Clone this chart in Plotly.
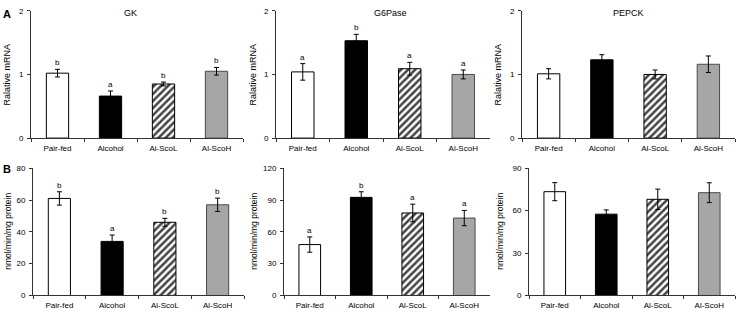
import plotly.graph_objects as go

categories = ["Pair-fed", "Alcohol", "Al-ScoL", "Al-ScoH"]

# Panel A: relative mRNA
gk_mrna = [1.02, 0.66, 0.85, 1.05]
gk_mrna_err = [0.06, 0.08, 0.03, 0.06]
gk_mrna_sig = ["b", "a", "b", "b"]

g6p_mrna = [1.04, 1.53, 1.09, 1.00]
g6p_mrna_err = [0.13, 0.10, 0.10, 0.07]
g6p_mrna_sig = ["a", "b", "a", "a"]

pepck_mrna = [1.01, 1.23, 1.00, 1.16]
pepck_mrna_err = [0.08, 0.08, 0.07, 0.13]
pepck_mrna_sig = ["", "", "", ""]

# Panel B: enzyme activity
gk_act = [61.0, 34.0, 46.0, 57.0]
gk_act_err = [4.2, 4.0, 2.5, 4.2]
gk_act_sig = ["b", "a", "b", "b"]

g6p_act = [48.0, 92.5, 77.8, 73.0]
g6p_act_err = [7.2, 5.3, 8.3, 7.2]
g6p_act_sig = ["a", "b", "a", "a"]

pepck_act = [73.4, 57.5, 68.0, 72.7]
pepck_act_err = [6.4, 3.0, 7.2, 7.0]
pepck_act_sig = ["", "", "", ""]

titles = ["GK", "G6Pase", "PEPCK"]
ytitle_top = "Ralative mRNA"
ytitle_bot = "nmol/min/mg protein"

FONT = "Arial, Liberation Sans, sans-serif"
W, H = 738, 317

def px_x(p):
    return p / W

def px_y(p):
    return 1 - p / H

panels = [
    (gk_mrna, gk_mrna_err, gk_mrna_sig, (31, 243), (138, 7), 2, 1, ytitle_top, 7, "GK", 130),
    (g6p_mrna, g6p_mrna_err, g6p_mrna_sig, (276, 490), (138, 7), 2, 1, ytitle_top, 253, "G6Pase", 390),
    (pepck_mrna, pepck_mrna_err, pepck_mrna_sig, (522, 735), (138, 7), 2, 1, ytitle_top, 498, "PEPCK", 628),
    (gk_act, gk_act_err, gk_act_sig, (33, 244), (300, 169), 80, 20, ytitle_bot, 8, None, None),
    (g6p_act, g6p_act_err, g6p_act_sig, (284, 490), (300, 169), 120, 30, ytitle_bot, 254, None, None),
    (pepck_act, pepck_act_err, pepck_act_sig, (529, 735), (300, 169), 90, 30, ytitle_bot, 500, None, None),
]

fills = ["white", "black", "white", "#a6a6a6"]
lines = ["black", "black", "black", "#4a4a4a"]
patterns = ["", "", "/", ""]

fig = go.Figure()
annotations = []

for i, (vals, errs, sig, xd, yd, ymax, dt, yt, ytx, title, tx) in enumerate(panels):
    n = i + 1
    xa = "x" if n == 1 else f"x{n}"
    ya = "y" if n == 1 else f"y{n}"
    fig.add_trace(go.Bar(
        x=categories, y=vals, xaxis=xa, yaxis=ya, width=0.42,
        marker=dict(color=fills, line=dict(color=lines, width=1),
                    pattern=dict(shape=patterns, fgcolor="black", bgcolor="white",
                                 fgopacity=1, size=5, solidity=0.5)),
        error_y=dict(type="data", array=errs, color="black", thickness=1, width=2.5),
        showlegend=False, hoverinfo="skip",
    ))
    xkey = "xaxis" if n == 1 else f"xaxis{n}"
    ykey = "yaxis" if n == 1 else f"yaxis{n}"
    fig.layout[xkey] = dict(
        domain=[px_x(xd[0]), px_x(xd[1])], anchor=ya, type="category",
        range=[-0.5, 3.5], showline=True, linecolor="#333", linewidth=1,
        ticks="outside", ticklen=3, tickcolor="#333", tickson="boundaries",
        ticklabelstandoff=2,
        tickfont=dict(family=FONT, size=8, color="black"), showgrid=False,
        zeroline=False, fixedrange=True,
    )
    fig.layout[ykey] = dict(
        domain=[px_y(yd[0]), px_y(yd[1])], anchor=xa, range=[0, ymax], dtick=dt,
        showline=True, linecolor="#333", linewidth=1, ticks="outside", ticklen=3,
        tickcolor="#333", ticklabelstandoff=2,
        tickfont=dict(family=FONT, size=8, color="black"),
        showgrid=False, zeroline=False, fixedrange=True,
    )
    for c, v, e, s in zip(categories, vals, errs, sig):
        if s:
            annotations.append(dict(
                x=c, y=v + e, xref=xa, yref=ya, text=s, showarrow=False,
                yanchor="bottom", yshift=0,
                font=dict(family=FONT, size=8, color="black"),
            ))
    annotations.append(dict(
        x=px_x(ytx), y=(px_y(yd[0]) + px_y(yd[1])) / 2, xref="paper", yref="paper",
        text=yt, showarrow=False, textangle=-90, xanchor="center", yanchor="middle",
        font=dict(family=FONT, size=9 if yt == ytitle_top else 8.5, color="black"),
    ))
    if title:
        annotations.append(dict(
            x=px_x(tx), y=px_y(9), xref="paper", yref="paper", text=title,
            showarrow=False, xanchor="center", yanchor="middle",
            font=dict(family=FONT, size=9, color="black"),
        ))

annotations.append(dict(x=px_x(1), y=px_y(10), xref="paper", yref="paper", text="<b>A</b>",
                        showarrow=False, xanchor="left", yanchor="middle",
                        font=dict(family=FONT, size=11, color="black")))
annotations.append(dict(x=px_x(1), y=px_y(170), xref="paper", yref="paper", text="<b>B</b>",
                        showarrow=False, xanchor="left", yanchor="middle",
                        font=dict(family=FONT, size=11, color="black")))

fig.update_layout(
    width=W, height=H, margin=dict(l=0, r=0, t=0, b=0),
    paper_bgcolor="white", plot_bgcolor="white", annotations=annotations,
)

fig.write_html("out.html")
